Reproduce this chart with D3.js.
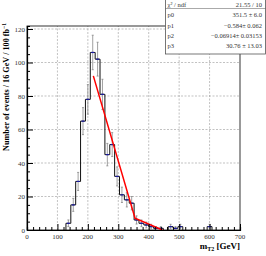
<!DOCTYPE html>
<html>
<head>
<meta charset="utf-8">
<script src="https://cdn.jsdelivr.net/npm/d3@7"></script>
<style>
  body { margin: 0; background: #fff; }
  svg { display: block; font-family: "Liberation Serif", "DejaVu Serif", serif; }
</style>
</head>
<body>
<div id="root"></div>
<script>
// histogram: bins of 16 GeV, lower edges and counts
const binLow = [128, 144, 160, 176, 192, 208, 224, 240, 256, 272, 288, 304, 320, 336,
                352, 368, 384, 400, 416, 432, 464, 480, 496, 592];
const counts = [4, 15, 29, 65, 78, 106, 102, 81, 45, 51, 32, 21, 18, 16,
                6, 4, 3, 2, 1, 1, 2, 1, 2, 2];
const binWidth = 16;

// fit curve
const fitX = [218, 355, 445];
const fitY = [92, 7, 0];

const xTicks = [0, 100, 200, 300, 400, 500, 600, 700];
const yTicks = [0, 20, 40, 60, 80, 100, 120];

const statLabels = ["\u03c7\u00b2 / ndf", "p0", "p1", "p2", "p3"];
const statValues = ["21.55 / 10", "351.5 \u00b1 6.0", "\u22120.584\u00b1 0.062",
                    "\u22120.06914\u00b1 0.03153", "30.76 \u00b1 13.03"];

const W = 266, H = 256;
const pad = { top: 26, right: 26, bottom: 26, left: 27 };

const svg = d3.select("#root").append("svg")
    .attr("width", W)
    .attr("height", H);

const x = d3.scaleLinear().domain([0, 700]).range([pad.left, W - pad.right]);
const y = d3.scaleLinear().domain([0, 121.8]).range([H - pad.bottom, pad.top]);

// grid
svg.append("g").selectAll("line")
    .data(xTicks.slice(1, -1))
    .enter().append("line")
    .attr("x1", d => x(d)).attr("x2", d => x(d))
    .attr("y1", y(0)).attr("y2", pad.top)
    .attr("stroke", "#999").attr("stroke-width", 0.6).attr("stroke-dasharray", "2,1.5");
svg.append("g").selectAll("line")
    .data(yTicks.slice(1))
    .enter().append("line")
    .attr("y1", d => y(d)).attr("y2", d => y(d))
    .attr("x1", x(0)).attr("x2", x(700))
    .attr("stroke", "#999").attr("stroke-width", 0.6).attr("stroke-dasharray", "2,1.5");

// frame
svg.append("rect")
    .attr("x", x(0)).attr("y", pad.top)
    .attr("width", x(700) - x(0)).attr("height", y(0) - pad.top)
    .attr("fill", "none").attr("stroke", "#000").attr("stroke-width", 0.8);

// error bars
const err = svg.append("g").attr("stroke", "#888").attr("stroke-width", 0.8);
binLow.forEach((lo, i) => {
    const n = counts[i], e = Math.sqrt(n), cx = x(lo + binWidth / 2);
    err.append("line").attr("x1", cx).attr("x2", cx).attr("y1", y(n - e)).attr("y2", y(n + e));
    err.append("line").attr("x1", cx - 1).attr("x2", cx + 1).attr("y1", y(n + e)).attr("y2", y(n + e));
    err.append("line").attr("x1", cx - 1).attr("x2", cx + 1).attr("y1", y(n - e)).attr("y2", y(n - e));
});

// step outline: one path per run of adjacent bins
let d = "";
binLow.forEach((lo, i) => {
    const startRun = i === 0 || binLow[i - 1] + binWidth !== lo;
    const endRun = i === binLow.length - 1 || binLow[i + 1] !== lo + binWidth;
    if (startRun) d += `M${x(lo)},${y(0)}`;
    d += `V${y(counts[i])}H${x(lo + binWidth)}`;
    if (endRun) d += `V${y(0)}`;
});
svg.append("path").attr("d", d)
    .attr("fill", "none").attr("stroke", "#111").attr("stroke-width", 1);

// blue markers
svg.append("g").selectAll("line")
    .data(binLow)
    .enter().append("line")
    .attr("x1", d => x(d + binWidth / 2) - 1.5)
    .attr("x2", d => x(d + binWidth / 2) + 1.5)
    .attr("y1", (d, i) => y(counts[i]))
    .attr("y2", (d, i) => y(counts[i]))
    .attr("stroke", "#1a1aa8").attr("stroke-width", 1.2);

// fit
svg.append("path")
    .datum(fitX.map((v, i) => [v, fitY[i]]))
    .attr("d", d3.line().x(d => x(d[0])).y(d => y(d[1])))
    .attr("fill", "none").attr("stroke", "#f00").attr("stroke-width", 1.5);

// axes, ticks pointing inward
const xAxis = d3.axisTop(x).tickValues(d3.range(0, 701, 20)).tickSize(3).tickFormat("");
svg.append("g").attr("transform", `translate(0,${y(0)})`).call(xAxis)
    .call(g => g.select(".domain").attr("stroke-width", 1.2))
    .call(g => g.selectAll(".tick line").filter(d => d % 100 === 0).attr("y2", -6));
svg.append("g").selectAll("text")
    .data(xTicks).enter().append("text")
    .attr("x", d => x(d)).attr("y", y(0) + 9)
    .attr("text-anchor", "middle").attr("font-size", 7).attr("fill", "#333")
    .text(d => d);

const yAxis = d3.axisRight(y).tickValues(d3.range(0, 121, 5)).tickSize(3).tickFormat("");
svg.append("g").attr("transform", `translate(${x(0)},0)`).call(yAxis)
    .call(g => g.select(".domain").attr("stroke-width", 1.2))
    .call(g => g.selectAll(".tick line").filter(d => d % 20 === 0).attr("x2", 6));
svg.append("g").selectAll("text")
    .data(yTicks).enter().append("text")
    .attr("x", x(0) - 2).attr("y", d => y(d) + 2.5)
    .attr("text-anchor", "end").attr("font-size", 7).attr("fill", "#333")
    .text(d => d);

// axis titles
const xt = svg.append("text")
    .attr("x", x(700)).attr("y", 249)
    .attr("text-anchor", "end").attr("font-size", 9).attr("font-weight", "bold");
xt.append("tspan").text("m");
xt.append("tspan").attr("font-size", 6).attr("dy", 2).text("T2");
xt.append("tspan").attr("dy", -2).text(" [GeV]");

const yt = svg.append("text")
    .attr("transform", `translate(9,${pad.top - 3}) rotate(-90)`)
    .attr("text-anchor", "end").attr("font-size", 8.2).attr("font-weight", "bold");
yt.append("tspan").text("Number of events / 16 GeV / 100 fb");
yt.append("tspan").attr("font-size", 5.5).attr("dy", -3).text("\u22121");

// stats box
const box = svg.append("g");
box.append("rect")
    .attr("x", 165.5).attr("y", -1).attr("width", 100).attr("height", 55)
    .attr("fill", "#fff").attr("stroke", "#555").attr("stroke-width", 0.8);
box.append("line")
    .attr("x1", 165.5).attr("x2", 265.5).attr("y1", 8.5).attr("y2", 8.5)
    .attr("stroke", "#555").attr("stroke-width", 0.5);
statLabels.forEach((s, i) => {
    box.append("text").attr("x", 167.5).attr("y", 7 + i * 10.3)
        .attr("font-size", 6.5).attr("fill", "#333").text(s);
    box.append("text").attr("x", 262).attr("y", 7 + i * 10.3)
        .attr("font-size", 6.5).attr("fill", "#333").attr("text-anchor", "end").text(statValues[i]);
});
</script>
</body>
</html>
